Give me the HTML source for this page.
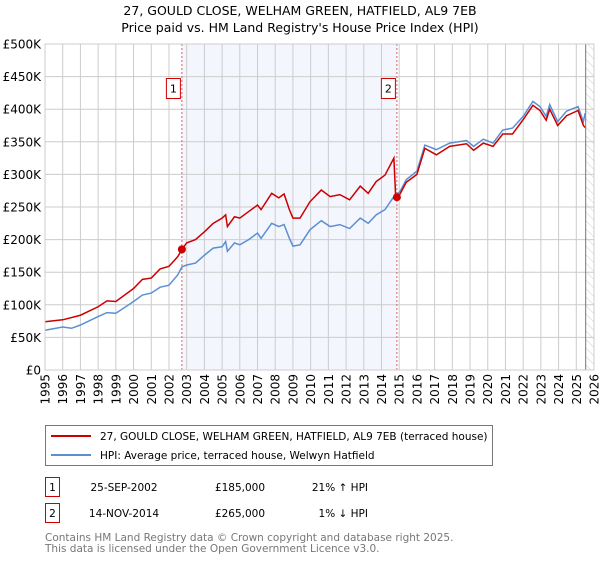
<!DOCTYPE html>
<html><head><meta charset="utf-8"><style>
body{margin:0;background:#fff;font-family:"Liberation Sans","DejaVu Sans",sans-serif;}
svg text{font-family:"DejaVu Sans","Liberation Sans",sans-serif;}
</style></head><body>
<svg id="chart" width="600" height="560" xmlns="http://www.w3.org/2000/svg">
<defs><pattern id="hatch" width="6" height="6" patternUnits="userSpaceOnUse" patternTransform="rotate(-45)"><line x1="0" y1="0" x2="0" y2="6" stroke="#ccc" stroke-width="1"/></pattern></defs>
<text x="300" y="15" text-anchor="middle" font-size="12.5" fill="#000">27, GOULD CLOSE, WELHAM GREEN, HATFIELD, AL9 7EB</text>
<text x="300" y="32" text-anchor="middle" font-size="12.5" fill="#000">Price paid vs. HM Land Registry's House Price Index (HPI)</text>
<g id="plot"></g>
<g>
<rect x="45.5" y="425.5" width="447" height="40" fill="#fff" stroke="#777"/>
<line x1="51" y1="436" x2="91" y2="436" stroke="#cc0000" stroke-width="2"/>
<text x="100" y="440" font-size="10.5">27, GOULD CLOSE, WELHAM GREEN, HATFIELD, AL9 7EB (terraced house)</text>
<line x1="51" y1="455" x2="91" y2="455" stroke="#5b8fd4" stroke-width="2"/>
<text x="100" y="459" font-size="10.5">HPI: Average price, terraced house, Welwyn Hatfield</text>
</g>
<g font-size="10.5">
<rect x="45.5" y="477.5" width="14" height="19" fill="#fff" stroke="#cc0000"/>
<text x="52.5" y="491" text-anchor="middle">1</text>
<text x="124" y="491" text-anchor="middle">25-SEP-2002</text>
<text x="240" y="491" text-anchor="middle">£185,000</text>
<text x="368" y="491" text-anchor="end">21% ↑ HPI</text>
<rect x="45.5" y="503.5" width="14" height="19" fill="#fff" stroke="#cc0000"/>
<text x="52.5" y="517" text-anchor="middle">2</text>
<text x="124" y="517" text-anchor="middle">14-NOV-2014</text>
<text x="240" y="517" text-anchor="middle">£265,000</text>
<text x="368" y="517" text-anchor="end">1% ↓ HPI</text>
</g>
<text x="45" y="541" font-size="10.5" fill="#777">Contains HM Land Registry data © Crown copyright and database right 2025.</text>
<text x="45" y="552" font-size="10.5" fill="#777">This data is licensed under the Open Government Licence v3.0.</text>
</svg>
<script>
const yTicks=[0,50000,100000,150000,200000,250000,300000,350000,400000,450000,500000];
const yTickLabels=["£0","£50K","£100K","£150K","£200K","£250K","£300K","£350K","£400K","£450K","£500K"];
const xYears=[1995,1996,1997,1998,1999,2000,2001,2002,2003,2004,2005,2006,2007,2008,2009,2010,2011,2012,2013,2014,2015,2016,2017,2018,2019,2020,2021,2022,2023,2024,2025,2026];
const hpiDates=[1995,1996,1996.5,1997,1998,1998.5,1999,2000,2000.5,2001,2001.5,2002,2002.5,2002.73,2003,2003.5,2004,2004.5,2005,2005.2,2005.3,2005.7,2006,2006.5,2007,2007.2,2007.8,2008.2,2008.5,2008.8,2009,2009.4,2009.96,2010.6,2011.1,2011.65,2012.2,2012.8,2013.25,2013.7,2014.2,2014.65,2015.05,2015.4,2016,2016.45,2017.1,2017.85,2018.8,2019.2,2019.75,2020.3,2020.85,2021.4,2022,2022.55,2022.95,2023.3,2023.5,2023.95,2024.45,2025.1,2025.4,2025.5];
const hpiValues=[61,66,64,69,82,88,87,105,115,118,127,130,146,158,161,164,176,187,189,197,182,195,192,200,210,202,225,220,223,202,190,192,215,229,220,223,217,233,225,238,246,264,274,292,305,345,338,348,352,343,354,348,368,371,389,412,404,389,407,381,397,404,381,394];
const propDates=[1995,1996,1997,1998,1998.5,1999,2000,2000.5,2001,2001.5,2002,2002.5,2002.73,2003,2003.5,2004,2004.5,2005,2005.2,2005.3,2005.7,2006,2006.5,2007,2007.2,2007.8,2008.2,2008.5,2008.8,2009,2009.4,2009.96,2010.6,2011.1,2011.65,2012.2,2012.8,2013.25,2013.7,2014.2,2014.7,2014.8,2014.87,2015.05,2015.4,2016,2016.45,2017.1,2017.85,2018.8,2019.2,2019.75,2020.3,2020.85,2021.4,2022,2022.55,2022.95,2023.3,2023.5,2023.95,2024.45,2025.1,2025.4,2025.5];
const propValues=[74,77,84,97,106,105,125,139,141,155,159,174,185,195,200,212,225,233,238,220,235,233,243,253,246,271,264,270,246,233,233,258,276,266,269,261,282,271,289,299,325,266,265,270,288,300,340,330,343,347,337,348,343,362,362,384,406,398,383,400,375,390,398,375,372];
const saleDates=[2002.73,2014.87];
const salePrices=[185000,265000];
const saleLabels=["1","2"];

const L=45,R=594,T=44,B=370,X0=1995,X1=2026,YMAX=500000;
const xs=d=>L+(d-X0)/(X1-X0)*(R-L);
const ys=v=>B-v/YMAX*(B-T);
const NS="http://www.w3.org/2000/svg";
const plot=document.getElementById('plot');
function mk(tag,attrs,parent){const e=document.createElementNS(NS,tag);for(const k in attrs)e.setAttribute(k,attrs[k]);(parent||plot).appendChild(e);return e;}

const shade=mk('rect',{x:xs(saleDates[0]),y:T,width:xs(saleDates[1])-xs(saleDates[0]),height:B-T,fill:'#eef2fc',opacity:0.7});


const hatch=mk('rect',{x:xs(2025.53),y:T,width:R-xs(2025.53),height:B-T,fill:'url(#hatch)'});



yTicks.forEach((v,i)=>{
  const g=mk('line',{x1:L,x2:R,y1:ys(v),y2:ys(v),stroke:'#ccc','stroke-width':1});
  
  
  const t=mk('text',{x:L-4,y:ys(v)+4.5,'text-anchor':'end','font-size':12,fill:'#000'});
  t.textContent=yTickLabels[i];
  
  
});
xYears.forEach(yr=>{
  const g=mk('line',{x1:xs(yr),x2:xs(yr),y1:T,y2:B,stroke:'#ccc','stroke-width':1});
  
  
  const t=mk('text',{x:0,y:0,'text-anchor':'end','font-size':12,fill:'#000',transform:`translate(${xs(yr)+4.5},${B+4}) rotate(-90)`});
  t.textContent=String(yr);
  
  
});
const nowLine=mk('line',{x1:xs(2025.53),x2:xs(2025.53),y1:T,y2:B,stroke:'#777','stroke-width':1});



saleDates.forEach((d,i)=>{
  const l=mk('line',{x1:xs(d),x2:xs(d),y1:T,y2:B,stroke:'#e06060','stroke-width':1,'stroke-dasharray':'2,2'});
  
  
});

const hp=mk('polyline',{points:hpiDates.map((d,i)=>xs(d)+','+ys(hpiValues[i]*1000)).join(' '),fill:'none',stroke:'#5b8fd4','stroke-width':1.5});


const pp=mk('polyline',{points:propDates.map((d,i)=>xs(d)+','+ys(propValues[i]*1000)).join(' '),fill:'none',stroke:'#cc0000','stroke-width':1.5});



saleDates.forEach((d,i)=>{
  const c=mk('circle',{cx:xs(d),cy:ys(salePrices[i]),r:4,fill:'#cc0000'});
  
  
  const bx=xs(d)-14-1;
  const r=mk('rect',{x:bx-0.5,y:78.5,width:14,height:20,fill:'#fff',stroke:'#cc0000'});
  
  
  const t=mk('text',{x:bx+6.5,y:92.5,'text-anchor':'middle','font-size':11,fill:'#000'});
  t.textContent=saleLabels[i];
  
  
});
const frame=mk('rect',{x:L,y:T,width:R-L,height:B-T,fill:'none',stroke:'#ccc'});


</script>
</body></html>
